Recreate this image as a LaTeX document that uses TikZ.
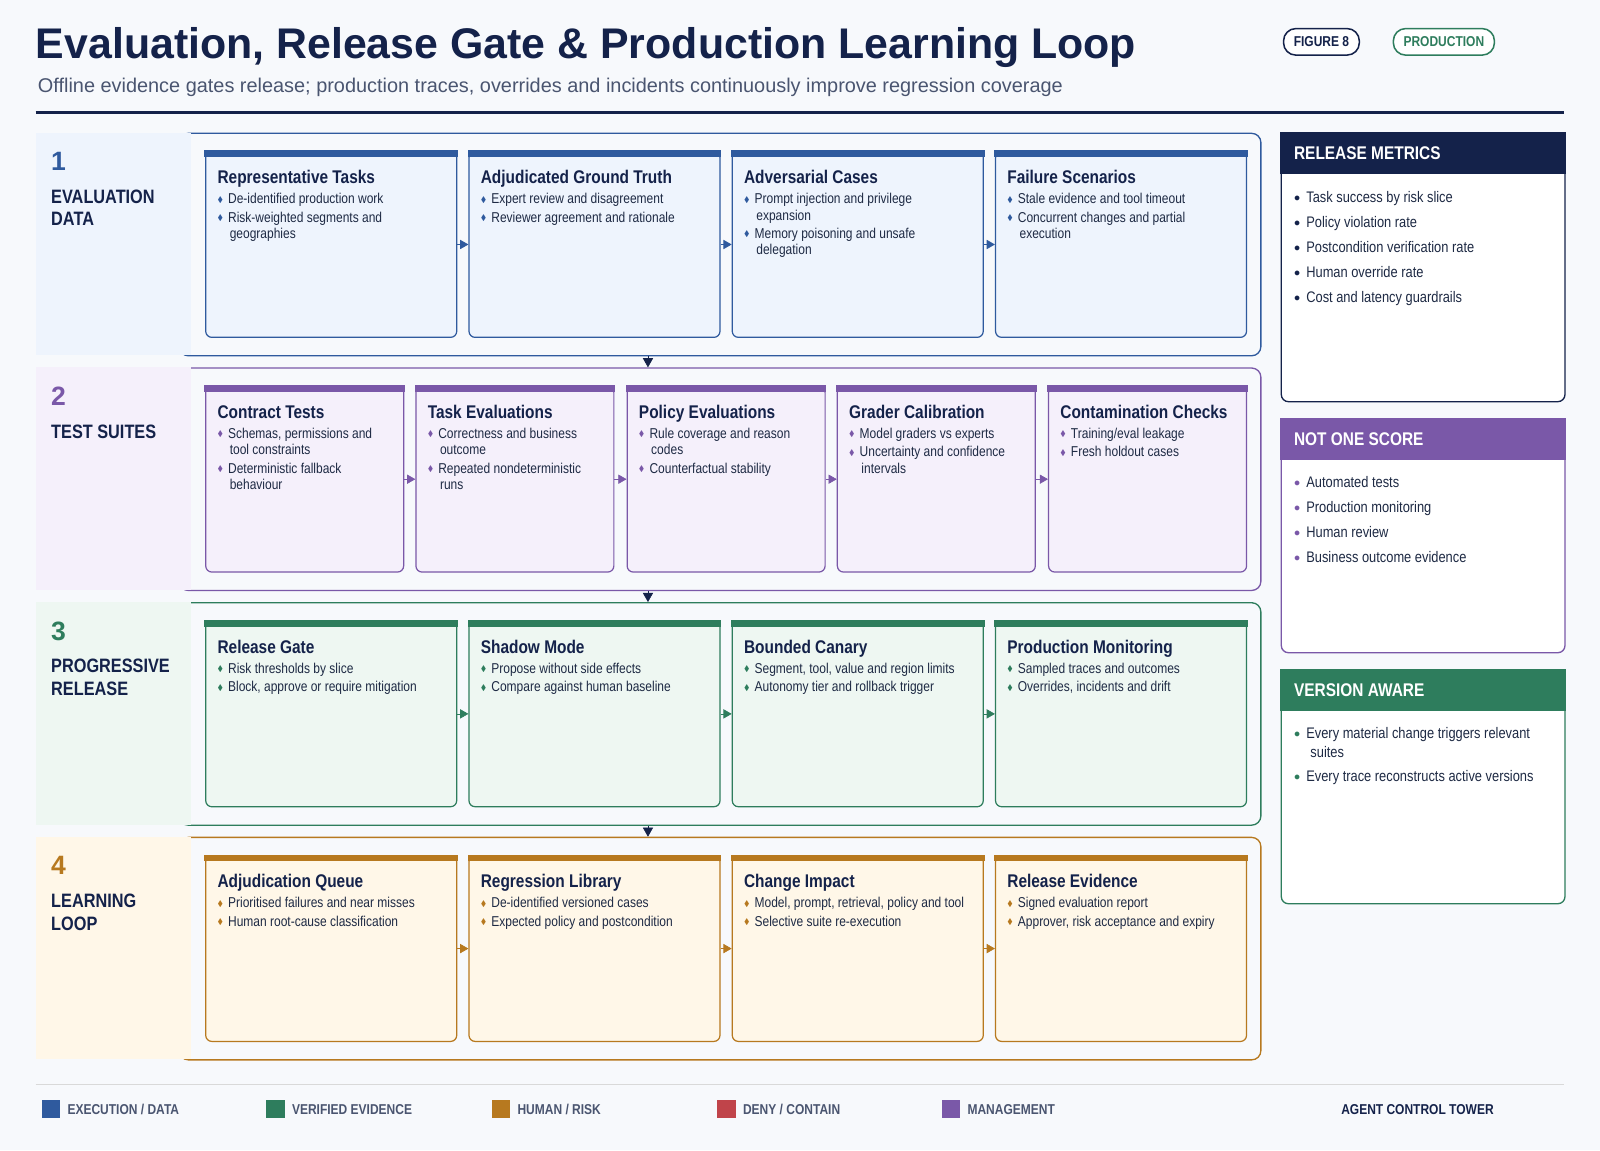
\documentclass[tikz,border=0pt]{standalone}
\usepackage{amssymb}
\usepackage{fontspec}
\setmainfont{Liberation Sans}
\newfontfamily\cond[FakeStretch=0.84]{Liberation Sans}
\usetikzlibrary{arrows.meta,positioning}

\definecolor{navy}{HTML}{14224A}
\definecolor{bluec}{HTML}{2F5A9E}
\definecolor{bluef}{HTML}{EEF4FD}
\definecolor{purc}{HTML}{7A58A8}
\definecolor{purf}{HTML}{F5F0FB}
\definecolor{grnc}{HTML}{2E7D5D}
\definecolor{grnf}{HTML}{EEF7F2}
\definecolor{orac}{HTML}{B7791F}
\definecolor{oraf}{HTML}{FFF7E8}
\definecolor{redc}{HTML}{C0444A}
\definecolor{bgc}{HTML}{F7F9FC}
\definecolor{txt}{HTML}{1E2A44}
\definecolor{grayt}{HTML}{4A5570}

\tikzset{
  cardbox/.style={rectangle, rounded corners=6pt, line width=1.2pt, anchor=north west, inner sep=0pt},
  cardtitle/.style={font=\cond\bfseries\fontsize{18}{21}\selectfont, text=navy, inner sep=0pt, text height=13pt, text depth=4pt},
  cardtext/.style={font=\cond\fontsize{14}{16}\selectfont, text=txt, align=left, inner sep=0pt},
  rowframe/.style={rectangle, rounded corners=9pt, line width=1.3pt, anchor=north west, minimum width=1060pt, minimum height=218pt, inner sep=0pt},
  nextarr/.style={-{Triangle[length=8pt,width=9pt]}, line width=0.6pt},
  downarr/.style={-{Triangle[length=9pt,width=10pt]}, navy, line width=0.6pt},
  panel/.style={rectangle, rounded corners=7pt, line width=1.3pt, anchor=north west, minimum width=278pt, inner sep=0pt, fill=white},
  paneltext/.style={font=\cond\fontsize{15}{24.5}\selectfont, text=txt, align=left, inner sep=0pt, anchor=north west},
  rownum/.style={font=\bfseries\fontsize{26}{28}\selectfont, anchor=north west, inner sep=0pt},
  rowlab/.style={font=\cond\bfseries\fontsize{19}{22}\selectfont, text=navy, align=left, anchor=north west, inner sep=0pt},
  legtext/.style={font=\cond\bfseries\fontsize{14}{16}\selectfont, text=grayt, anchor=west, inner sep=0pt},
  badge/.style={rectangle, rounded corners=12pt, line width=1.5pt, fill=white, font=\cond\bfseries\fontsize{14}{16}\selectfont, minimum height=26pt, inner xsep=10pt}
}

\def\rowc{bluec}
\newcommand{\bl}[1]{\textcolor{\rowc}{\raisebox{1.5pt}{\fontsize{8}{8}\selectfont$\blacklozenge$}}\hspace{5pt}#1}
\newcommand{\cl}[1]{\hspace*{12pt}#1}
\newcommand{\pb}[2]{\textcolor{#1}{\raisebox{1pt}{\fontsize{13}{13}\selectfont$\bullet$}}\hspace{6pt}#2}
% card: name, x, y, width, height, colour, fill, title, body
\newcommand{\card}[9]{%
  \node[cardbox, draw=#6, fill=#7, minimum width=#4pt, minimum height=#5pt] (#1) at (#2,#3) {};
  \fill[#6] ([xshift=-0.6pt,yshift=0.6pt]#1.north west) rectangle ([xshift=0.6pt,yshift=-6pt]#1.north east);
  \node[cardtitle, anchor=north west] (#1t) at ([shift={(12pt,-19pt)}]#1.north west) {#8};
  \node[cardtext, anchor=north west] (#1b) at ([shift={(0pt,-5pt)}]#1t.south west) {#9};
}

\begin{document}
\begin{tikzpicture}[x=1pt,y=-1pt]
\fill[bgc] (0,0) rectangle (1568,1127);
\useasboundingbox (0,0) rectangle (1568,1127);

% header
\node[anchor=west, inner sep=0pt, font=\bfseries\fontsize{42}{45}\selectfont, text=navy] (title) at (35,47) {Evaluation, Release Gate \& Production Learning Loop};
\node[anchor=west, inner sep=0pt, font=\fontsize{19.5}{22}\selectfont, text=grayt] (subtitle) at (37,86) {Offline evidence gates release; production traces, overrides and incidents continuously improve regression coverage};
\node[badge, draw=navy, text=navy] (fig) at (1295,41) {FIGURE 8};
\node[badge, draw=grnc, text=grnc] (prod) at (1415,41) {PRODUCTION};
\draw[navy, line width=2.5pt] (35,110) -- (1533,110);

% row frames
\node[rowframe, draw=bluec] (f1) at (175,130) {};
\node[rowframe, draw=purc] (f2) at (175,360) {};
\node[rowframe, draw=grnc] (f3) at (175,590) {};
\node[rowframe, draw=orac] (f4) at (175,820) {};
\fill[bluef] (35,130) rectangle (187,348);
\fill[purf] (35,360) rectangle (187,578);
\fill[grnf] (35,590) rectangle (187,808);
\fill[oraf] (35,820) rectangle (187,1038);

\node[rownum, text=bluec] (n1) at (50,149) {1};
\node[rowlab] (l1) at (50,186) {EVALUATION\\DATA};
\node[rownum, text=purc] (n2) at (50,379) {2};
\node[rowlab] (l2) at (50,416) {TEST SUITES};
\node[rownum, text=grnc] (n3) at (50,609) {3};
\node[rowlab] (l3) at (50,646) {PROGRESSIVE\\RELEASE};
\node[rownum, text=orac] (n4) at (50,839) {4};
\node[rowlab] (l4) at (50,876) {LEARNING\\LOOP};

% row 1
\def\rowc{bluec}
\card{a1}{201}{148}{246}{182}{bluec}{bluef}{Representative Tasks}{\bl{De-identified production work}\\[2pt]\bl{Risk-weighted segments and}\\\cl{geographies}}
\card{a2}{459}{148}{246}{182}{bluec}{bluef}{Adjudicated Ground Truth}{\bl{Expert review and disagreement}\\[2pt]\bl{Reviewer agreement and rationale}}
\card{a3}{717}{148}{246}{182}{bluec}{bluef}{Adversarial Cases}{\bl{Prompt injection and privilege}\\\cl{expansion}\\[2pt]\bl{Memory poisoning and unsafe}\\\cl{delegation}}
\card{a4}{975}{148}{246}{182}{bluec}{bluef}{Failure Scenarios}{\bl{Stale evidence and tool timeout}\\[2pt]\bl{Concurrent changes and partial}\\\cl{execution}}
\draw[nextarr, bluec] (a1.east) -- (a2.west);
\draw[nextarr, bluec] (a2.east) -- (a3.west);
\draw[nextarr, bluec] (a3.east) -- (a4.west);

% row 2
\def\rowc{purc}
\card{b1}{201}{378}{194}{182}{purc}{purf}{Contract Tests}{\bl{Schemas, permissions and}\\\cl{tool constraints}\\[2pt]\bl{Deterministic fallback}\\\cl{behaviour}}
\card{b2}{407}{378}{194}{182}{purc}{purf}{Task Evaluations}{\bl{Correctness and business}\\\cl{outcome}\\[2pt]\bl{Repeated nondeterministic}\\\cl{runs}}
\card{b3}{614}{378}{194}{182}{purc}{purf}{Policy Evaluations}{\bl{Rule coverage and reason}\\\cl{codes}\\[2pt]\bl{Counterfactual stability}}
\card{b4}{820}{378}{194}{182}{purc}{purf}{Grader Calibration}{\bl{Model graders vs experts}\\[2pt]\bl{Uncertainty and confidence}\\\cl{intervals}}
\card{b5}{1027}{378}{194}{182}{purc}{purf}{Contamination Checks}{\bl{Training/eval leakage}\\[2pt]\bl{Fresh holdout cases}}
\draw[nextarr, purc] (b1.east) -- (b2.west);
\draw[nextarr, purc] (b2.east) -- (b3.west);
\draw[nextarr, purc] (b3.east) -- (b4.west);
\draw[nextarr, purc] (b4.east) -- (b5.west);

% row 3
\def\rowc{grnc}
\card{c1}{201}{608}{246}{182}{grnc}{grnf}{Release Gate}{\bl{Risk thresholds by slice}\\[2pt]\bl{Block, approve or require mitigation}}
\card{c2}{459}{608}{246}{182}{grnc}{grnf}{Shadow Mode}{\bl{Propose without side effects}\\[2pt]\bl{Compare against human baseline}}
\card{c3}{717}{608}{246}{182}{grnc}{grnf}{Bounded Canary}{\bl{Segment, tool, value and region limits}\\[2pt]\bl{Autonomy tier and rollback trigger}}
\card{c4}{975}{608}{246}{182}{grnc}{grnf}{Production Monitoring}{\bl{Sampled traces and outcomes}\\[2pt]\bl{Overrides, incidents and drift}}
\draw[nextarr, grnc] (c1.east) -- (c2.west);
\draw[nextarr, grnc] (c2.east) -- (c3.west);
\draw[nextarr, grnc] (c3.east) -- (c4.west);

% row 4
\def\rowc{orac}
\card{d1}{201}{838}{246}{182}{orac}{oraf}{Adjudication Queue}{\bl{Prioritised failures and near misses}\\[2pt]\bl{Human root-cause classification}}
\card{d2}{459}{838}{246}{182}{orac}{oraf}{Regression Library}{\bl{De-identified versioned cases}\\[2pt]\bl{Expected policy and postcondition}}
\card{d3}{717}{838}{246}{182}{orac}{oraf}{Change Impact}{\bl{Model, prompt, retrieval, policy and tool}\\[2pt]\bl{Selective suite re-execution}}
\card{d4}{975}{838}{246}{182}{orac}{oraf}{Release Evidence}{\bl{Signed evaluation report}\\[2pt]\bl{Approver, risk acceptance and expiry}}
\draw[nextarr, orac] (d1.east) -- (d2.west);
\draw[nextarr, orac] (d2.east) -- (d3.west);
\draw[nextarr, orac] (d3.east) -- (d4.west);

% between rows
\draw[downarr] ([xshift=460pt]f1.south west) -- ([xshift=460pt]f2.north west);
\draw[downarr] ([xshift=460pt]f2.south west) -- ([xshift=460pt]f3.north west);
\draw[downarr] ([xshift=460pt]f3.south west) -- ([xshift=460pt]f4.north west);

% side panels
\node[panel, draw=navy, minimum height=263pt] (p1) at (1255,130) {};
\fill[navy] ([xshift=-0.65pt,yshift=0.65pt]p1.north west) rectangle ([xshift=0.65pt,yshift=-41pt]p1.north east);
\node[anchor=west, inner sep=0pt, text=white, font=\cond\bfseries\fontsize{18}{20}\selectfont] (p1h) at (1268,150) {RELEASE METRICS};
\node[paneltext] (p1b) at (1268,187) {\pb{navy}{Task success by risk slice}\\\pb{navy}{Policy violation rate}\\\pb{navy}{Postcondition verification rate}\\\pb{navy}{Human override rate}\\\pb{navy}{Cost and latency guardrails}};

\node[panel, draw=purc, minimum height=229pt] (p2) at (1255,410) {};
\fill[purc] ([xshift=-0.65pt,yshift=0.65pt]p2.north west) rectangle ([xshift=0.65pt,yshift=-41pt]p2.north east);
\node[anchor=west, inner sep=0pt, text=white, font=\cond\bfseries\fontsize{18}{20}\selectfont] (p2h) at (1268,430) {NOT ONE SCORE};
\node[paneltext] (p2b) at (1268,467) {\pb{purc}{Automated tests}\\\pb{purc}{Production monitoring}\\\pb{purc}{Human review}\\\pb{purc}{Business outcome evidence}};

\node[panel, draw=grnc, minimum height=229pt] (p3) at (1255,656) {};
\fill[grnc] ([xshift=-0.65pt,yshift=0.65pt]p3.north west) rectangle ([xshift=0.65pt,yshift=-41pt]p3.north east);
\node[anchor=west, inner sep=0pt, text=white, font=\cond\bfseries\fontsize{18}{20}\selectfont] (p3h) at (1268,676) {VERSION AWARE};
\node[paneltext, font=\cond\fontsize{15}{18}\selectfont] (p3b) at (1268,713) {\pb{grnc}{Every material change triggers relevant}\\\hspace*{16pt}suites\\[6pt]\pb{grnc}{Every trace reconstructs active versions}};

% legend
\draw[black!15, line width=1pt] (35,1063) -- (1533,1063);
\fill[bluec] (41,1078) rectangle (59,1096);
\node[legtext] (g1) at (66,1087) {EXECUTION / DATA};
\fill[grnc] (261,1078) rectangle (279,1096);
\node[legtext] (g2) at (286,1087) {VERIFIED EVIDENCE};
\fill[orac] (482,1078) rectangle (500,1096);
\node[legtext] (g3) at (507,1087) {HUMAN / RISK};
\fill[redc] (703,1078) rectangle (721,1096);
\node[legtext] (g4) at (728,1087) {DENY / CONTAIN};
\fill[purc] (923,1078) rectangle (941,1096);
\node[legtext] (g5) at (948,1087) {MANAGEMENT};
\node[legtext, anchor=east, text=navy] (tower) at (1464,1087) {AGENT CONTROL TOWER};
\end{tikzpicture}
\end{document}
